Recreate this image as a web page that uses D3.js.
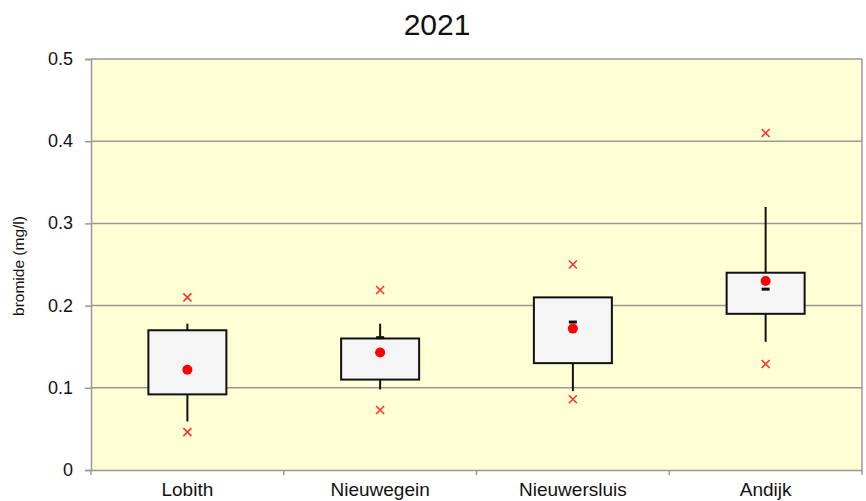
<!DOCTYPE html>
<html><head><meta charset="utf-8">
<script src="https://cdn.jsdelivr.net/npm/d3@7"></script>
<style>body{margin:0;background:#fff}svg{display:block}text{font-family:"Liberation Sans",Arial,sans-serif;fill:#111}</style>
</head><body><svg id="c" width="866" height="501"></svg>
<script>
const title = "2021";
const yLabel = "bromide (mg/l)";
const categories = ["Lobith","Nieuwegein","Nieuwersluis","Andijk"];
const minVals  = [0.046,0.073,0.086,0.129];
const whiskLow = [0.059,0.098,0.096,0.156];
const q1       = [0.092,0.110,0.130,0.190];
const median   = [0.121,0.161,0.180,0.220];
const mean     = [0.122,0.143,0.172,0.230];
const q3       = [0.170,0.160,0.210,0.240];
const whiskHigh= [0.178,0.178,0.210,0.320];
const maxVals  = [0.210,0.219,0.250,0.410];
const yTicks = [0,0.1,0.2,0.3,0.4,0.5];
const yTickLabels = ["0","0.1","0.2","0.3","0.4","0.5"];

const svg = d3.select("#c");
const L=91,R=862,T=59,B=470;
const x = d3.scaleBand().domain(categories).range([L,R]).padding(0);
const y = d3.scaleLinear().domain([0,0.5]).range([B,T]);

svg.append("rect").attr("x",L).attr("y",T).attr("width",R-L).attr("height",B-T).attr("fill","#FFFFD6");
svg.append("g").selectAll("line").data(yTicks.filter(d=>d>0)).join("line")
  .attr("x1",L).attr("x2",R).attr("y1",d=>y(d)).attr("y2",d=>y(d))
  .attr("stroke","#999").attr("stroke-width",1.5);
svg.append("line").attr("x1",R).attr("x2",R).attr("y1",T).attr("y2",B).attr("stroke","#999").attr("stroke-width",1.5);

const ya = svg.append("g").attr("transform",`translate(${L},0)`)
  .call(d3.axisLeft(y).tickValues(yTicks).tickFormat((d,i)=>yTickLabels[i]).tickSize(6).tickPadding(12));
ya.select(".domain").attr("stroke","#999").attr("stroke-width",1.5);
ya.selectAll(".tick line").attr("stroke","#999").attr("stroke-width",1.5);
ya.selectAll(".tick text").attr("font-size",18).attr("fill","#111").attr("font-family","Liberation Sans, Arial, sans-serif").attr("dy","0.3em");

const xa = svg.append("g").attr("transform",`translate(0,${B})`)
  .call(d3.axisBottom(x).tickSize(0));
xa.select(".domain").attr("stroke","#999").attr("stroke-width",1.5);
xa.selectAll(".tick text").attr("font-size",19).attr("fill","#111").attr("font-family","Liberation Sans, Arial, sans-serif").attr("y",26).attr("dy","0");
const bounds = categories.map(c=>x(c)).concat([R]);
svg.append("g").selectAll("line").data(bounds).join("line")
  .attr("x1",d=>d).attr("x2",d=>d).attr("y1",B).attr("y2",B+5)
  .attr("stroke","#999").attr("stroke-width",1.5);

const cx = c=>x(c)+x.bandwidth()/2;
const bw = 78;
const g = svg.append("g");
categories.forEach((c,i)=>{
  const X=cx(c);
  g.append("line").attr("x1",X).attr("x2",X).attr("y1",y(whiskLow[i])).attr("y2",y(q1[i])).attr("stroke","#111").attr("stroke-width",2);
  g.append("line").attr("x1",X).attr("x2",X).attr("y1",y(q3[i])).attr("y2",y(whiskHigh[i])).attr("stroke","#111").attr("stroke-width",2);
  g.append("rect").attr("x",X-bw/2).attr("y",y(q3[i])).attr("width",bw).attr("height",y(q1[i])-y(q3[i]))
    .attr("fill","#F5F5F5").attr("stroke","#111").attr("stroke-width",2);
  g.append("line").attr("x1",X-4).attr("x2",X+4).attr("y1",y(median[i])).attr("y2",y(median[i])).attr("stroke","#111").attr("stroke-width",3);
  g.append("circle").attr("cx",X).attr("cy",y(mean[i])).attr("r",5).attr("fill","#FF0000");
  [minVals[i],maxVals[i]].forEach(v=>{
    const Y=y(v), s=4;
    g.append("path").attr("d",`M${X-s},${Y-s}L${X+s},${Y+s}M${X-s},${Y+s}L${X+s},${Y-s}`)
      .attr("stroke","#FF3030").attr("stroke-width",1.6).attr("fill","none");
  });
});

svg.append("text").attr("x",437).attr("y",35).attr("text-anchor","middle").attr("font-size",30).text(title);
svg.append("text").attr("transform","translate(24,266) rotate(-90)").attr("text-anchor","middle").attr("font-size",15.5).text(yLabel);
</script></body></html>
